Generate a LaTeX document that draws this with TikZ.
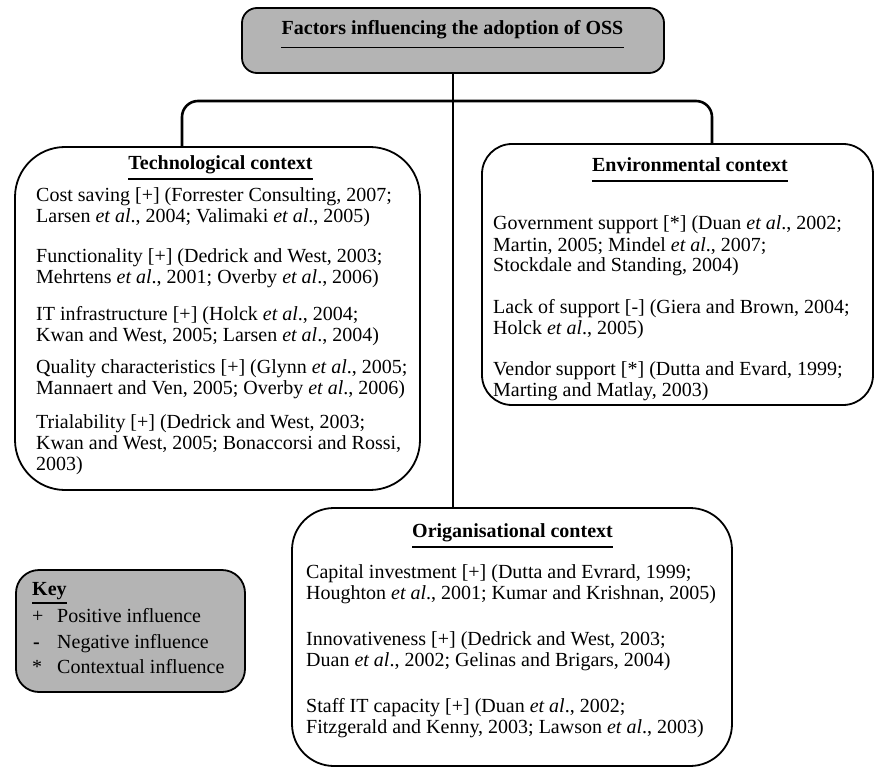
\documentclass[tikz,border=0pt]{standalone}
\usepackage{fontspec}
\setmainfont{Liberation Serif}
\usetikzlibrary{fit}
\definecolor{boxgray}{RGB}{180,180,180}
\newcommand\etal{\textit{et al}.}
\begin{document}
\begin{tikzpicture}[x=1pt,y=-1pt,
  box/.style={draw, line width=1.8pt, inner sep=0pt},
  conn/.style={line width=2.6pt},
  ttl/.style={font=\fontsize{20}{21}\selectfont\bfseries, inner sep=0pt, anchor=base},
  entry/.style={font=\fontsize{20}{21}\selectfont, inner sep=0pt, anchor=base west},
  uline/.style={line width=1.8pt}]
\useasboundingbox (0,0) rectangle (875,767);

% boxes
\node[box, fill=boxgray, rounded corners=15pt, fit={(242,8) (664,73)}] (top) {};
\node[box, rounded corners=50pt, fit={(15,147) (420,490)}] (tech) {};
\node[box, rounded corners=30pt, fit={(482,144) (873,405)}] (env) {};
\node[box, rounded corners=42pt, fit={(292,508) (732,766)}] (org) {};
\node[box, fill=boxgray, rounded corners=23pt, fit={(16,570) (245,692)}] (key) {};

% connectors
\coordinate (tj) at (182,101);
\coordinate (ej) at (712,101);
\draw[conn] (top.south) -- (top.south |- org.north);
\draw[conn, rounded corners=16pt] (tech.north -| tj) -- (tj) -- (ej) -- (env.north -| ej);

% titles
\node[ttl] (ttop) at (452.5,35) {Factors influencing the adoption of OSS};
\draw[uline] ([yshift=-12.5pt]ttop.base west) -- ([yshift=-12.5pt]ttop.base east);
\node[ttl] (ttech) at (220.5,170) {Technological context};
\draw[uline] ([yshift=-9pt]ttech.base west) -- ([yshift=-9pt]ttech.base east);
\node[ttl] (tenv) at (690,172) {Environmental context};
\draw[uline] ([yshift=-9pt]tenv.base west) -- ([yshift=-9pt]tenv.base east);
\node[ttl] (torg) at (512.5,537) {Origanisational context};
\draw[uline] ([yshift=-10pt]torg.base west) -- ([yshift=-10pt]torg.base east);
\node[ttl, anchor=base west] (tkey) at (32,595) {Key};
\draw[uline] ([yshift=-8pt]tkey.base west) -- ([yshift=-8pt]tkey.base east);

% technological entries
\node[entry] (t1) at (36,202) {\begin{tabular}[t]{@{}l@{}}Cost saving [+] (Forrester Consulting, 2007;\\Larsen \etal, 2004; Valimaki \etal, 2005)\end{tabular}};
\node[entry] (t2) at (36,262) {\begin{tabular}[t]{@{}l@{}}Functionality [+] (Dedrick and West, 2003;\\Mehrtens \etal, 2001; Overby \etal, 2006)\end{tabular}};
\node[entry] (t3) at (36,320) {\begin{tabular}[t]{@{}l@{}}IT infrastructure [+] (Holck \etal, 2004;\\Kwan and West, 2005; Larsen \etal, 2004)\end{tabular}};
\node[entry] (t4) at (36,373) {\begin{tabular}[t]{@{}l@{}}Quality characteristics [+] (Glynn \etal, 2005;\\Mannaert and Ven, 2005; Overby \etal, 2006)\end{tabular}};
\node[entry] (t5) at (36,428) {\begin{tabular}[t]{@{}l@{}}Trialability [+] (Dedrick and West, 2003;\\Kwan and West, 2005; Bonaccorsi and Rossi,\\2003)\end{tabular}};

% environmental entries
\node[entry] (e1) at (493,230) {\begin{tabular}[t]{@{}l@{}}Government support [*] (Duan \etal, 2002;\\Martin, 2005; Mindel \etal, 2007;\\Stockdale and Standing, 2004)\end{tabular}};
\node[entry] (e2) at (493,313) {\begin{tabular}[t]{@{}l@{}}Lack of support [-] (Giera and Brown, 2004;\\Holck \etal, 2005)\end{tabular}};
\node[entry] (e3) at (493,375) {\begin{tabular}[t]{@{}l@{}}Vendor support [*] (Dutta and Evard, 1999;\\Marting and Matlay, 2003)\end{tabular}};

% organisational entries
\node[entry] (o1) at (306,578) {\begin{tabular}[t]{@{}l@{}}Capital investment [+] (Dutta and Evrard, 1999;\\Houghton \etal, 2001; Kumar and Krishnan, 2005)\end{tabular}};
\node[entry] (o2) at (306,645) {\begin{tabular}[t]{@{}l@{}}Innovativeness [+] (Dedrick and West, 2003;\\Duan \etal, 2002; Gelinas and Brigars, 2004)\end{tabular}};
\node[entry] (o3) at (306,712) {\begin{tabular}[t]{@{}l@{}}Staff IT capacity [+] (Duan \etal, 2002;\\Fitzgerald and Kenny, 2003; Lawson \etal, 2003)\end{tabular}};

% key entries
\node[entry] (k1s) at (32,622) {+};
\node[entry] (k1) at (57,622) {Positive influence};
\node[entry] (k2s) at (33,648) {\textbf{-}};
\node[entry] (k2) at (57,648) {Negative influence};
\node[entry] (k3s) at (32,673) {*};
\node[entry] (k3) at (57,673) {Contextual influence};
\end{tikzpicture}
\end{document}
